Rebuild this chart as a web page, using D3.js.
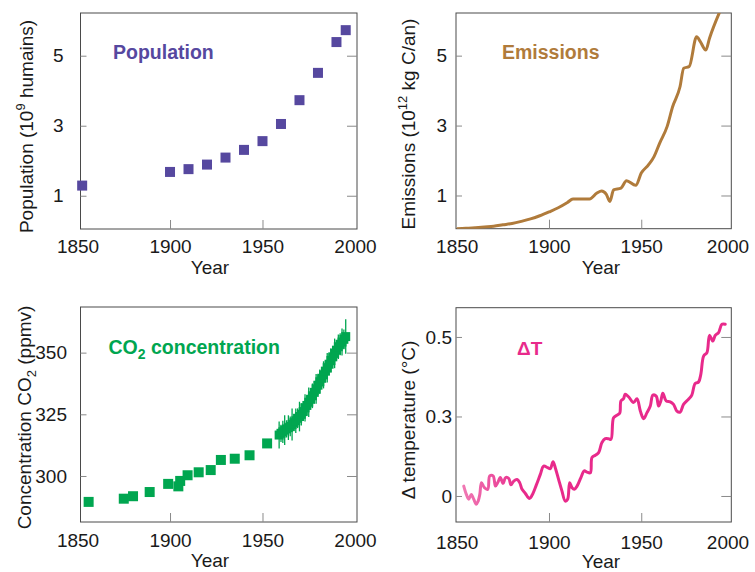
<!DOCTYPE html>
<html>
<head>
<meta charset="utf-8">
<script src="https://cdn.jsdelivr.net/npm/d3@7"></script>
<style>
  body { margin: 0; background: #fff; }
  svg { display: block; }
  text { font-family: "Liberation Sans", Arial, Helvetica, sans-serif; }
</style>
</head>
<body>
<svg id="chart" width="755" height="572"></svg>
<script>
// ---- data ----
const xTickYears = [1850, 1900, 1950, 2000];

// World population (10^9 people)
const popYears  = [1852.5, 1900, 1910, 1920, 1930, 1940, 1950, 1960, 1970, 1980, 1990, 1995];
const popValues = [1.29, 1.68, 1.76, 1.89, 2.09, 2.31, 2.56, 3.05, 3.73, 4.51, 5.39, 5.73];
const popTicks  = [1, 3, 5];

// Fossil carbon emissions (10^12 kg C per year)
const emYears  = [1850, 1855, 1860, 1865, 1870, 1875, 1880, 1885, 1890, 1895, 1900, 1905, 1910, 1913,
                  1922, 1926, 1928.5, 1931, 1933, 1935, 1939, 1942, 1947, 1950, 1954, 1957, 1960,
                  1964, 1967, 1971, 1973, 1976, 1980, 1982, 1985, 1987, 1992.5];
const emValues = [0.05, 0.06, 0.08, 0.10, 0.12, 0.16, 0.20, 0.26, 0.33, 0.42, 0.53, 0.65, 0.80, 0.90,
                  0.90, 1.07, 1.13, 1.04, 0.83, 1.16, 1.21, 1.42, 1.29, 1.64, 1.88, 2.12, 2.50,
                  2.97, 3.54, 4.11, 4.64, 4.69, 5.54, 5.40, 5.16, 5.50, 6.25];
const emTicks  = [1, 3, 5];

// Atmospheric CO2 (ppmv): ice-core samples, then direct annual measurements with seasonal range
const co2CoreYears  = [1856, 1875, 1880, 1889, 1899, 1904.5, 1905.5, 1909.5, 1915.5, 1922, 1927.5, 1935, 1943, 1952.5];
const co2CoreValues = [289.5, 290.8, 291.8, 293.5, 296.8, 295.8, 298.0, 300.3, 301.5, 302.4, 306.5, 307.0, 308.4, 313.2];
const co2AirYears   = d3.range(1959, 1996);
const co2AirValues  = [316.6, 317.3, 317.9, 318.6, 319.1, 319.6, 320.1, 320.9, 321.6, 322.4, 323.4, 324.1,
                       325.0, 326.1, 327.6, 328.6, 329.9, 331.1, 332.5, 333.9, 335.3, 336.8, 338.2, 339.6,
                       341.0, 342.5, 343.9, 345.3, 346.8, 348.3, 349.7, 351.0, 352.4, 353.4, 354.3, 355.4, 356.5];
const co2AirRange   = [5.5, 3.5, 4.5, 6.0, 3.5, 5.0, 4.0, 6.5, 3.5, 5.0, 4.0, 6.0, 4.5, 3.5, 5.5, 4.0,
                       6.0, 3.5, 5.0, 4.5, 6.0, 4.0, 5.0, 3.5, 5.5, 4.0, 6.0, 4.5, 5.0, 3.5, 6.0, 4.0,
                       5.0, 4.5, 5.5, 4.0, 7.0];
const co2Ticks = [300, 325, 350];

// Global temperature change (°C)
const tYears  = [1853.8, 1855.2, 1856.5, 1857.9, 1859.2, 1860.6, 1861.6, 1862.5, 1863.4, 1865, 1866.8, 1867.9,
                 1869.7, 1871, 1872.2, 1873.6, 1875.1, 1876.5, 1878.2, 1879.4, 1880.9, 1882.7, 1884.1, 1885.4,
                 1887.2, 1889.4, 1890.8, 1893.1, 1895.3, 1897.1, 1899.3, 1900.7, 1902.2, 1903.4, 1905.2, 1907,
                 1908.8, 1910.1, 1911.2, 1912.5, 1913.7, 1915.2, 1917.3, 1919.1, 1920.6, 1922.4, 1923.3, 1925.1,
                 1926.9, 1928.7, 1930.5, 1932.3, 1933.6, 1935, 1936.8, 1938.3, 1939, 1940.4, 1941.3, 1943.1,
                 1945.8, 1947.7, 1949.5, 1951.3, 1953.1, 1954.9, 1956.3, 1958.1, 1959.4, 1960.6, 1961.7, 1963.5,
                 1965.7, 1967.5, 1969.3, 1971.1, 1972.9, 1975.6, 1977.4, 1979.2, 1981, 1982.3, 1983.8, 1985.6,
                 1987, 1988.8, 1990.1, 1991.9, 1993.7, 1995.5];
const tValues = [0.031, 0.005, -0.010, 0.005, -0.010, -0.026, -0.016, 0.005, 0.042, 0.026, 0.021, 0.063,
                 0.063, 0.031, 0.042, 0.058, 0.040, 0.058, 0.055, 0.035, 0.047, 0.052, 0.042, 0.021,
                 0.008, -0.008, 0.002, 0.034, 0.068, 0.094, 0.089, 0.086, 0.108, 0.089, 0.052, 0.016,
                 -0.016, -0.010, 0.042, 0.026, 0.021, 0.031, 0.058, 0.079, 0.075, 0.073, 0.121, 0.128,
                 0.136, 0.168, 0.180, 0.180, 0.178, 0.246, 0.254, 0.260, 0.299, 0.306, 0.320, 0.312,
                 0.294, 0.306, 0.267, 0.243, 0.262, 0.283, 0.317, 0.314, 0.283, 0.299, 0.323, 0.299,
                 0.296, 0.288, 0.267, 0.264, 0.288, 0.304, 0.317, 0.354, 0.358, 0.383, 0.440, 0.451,
                 0.505, 0.487, 0.505, 0.514, 0.540, 0.540];
const tTickValues = [0, 0.25, 0.5];
const tTickLabels = ["0", "0.3", "0.5"];

// ---- drawing ----
const svg = d3.select("#chart");
const FONT = 19;
const ink = "#1a1a1a";

function panel(opt) {
  const g = svg.append("g");
  const x = d3.scaleLinear().domain(opt.xDomain).range([opt.x0, opt.x1]);
  const y = d3.scaleLinear().domain(opt.yDomain).range([opt.y1, opt.y0]);

  // frame
  g.append("rect")
    .attr("x", opt.x0).attr("y", opt.y0)
    .attr("width", opt.x1 - opt.x0).attr("height", opt.y1 - opt.y0)
    .attr("fill", "none").attr("stroke", "#4a4a4a").attr("stroke-width", 1);

  // left axis: labels outside, short ticks inside
  const left = d3.axisLeft(y).tickValues(opt.yTicks)
    .tickSizeInner(-6).tickSizeOuter(0).tickPadding(opt.yPad)
    .tickFormat((d, i) => opt.yLabels ? opt.yLabels[i] : d3.format("d")(d));
  const gl = g.append("g").attr("transform", `translate(${opt.x0},0)`).call(left);
  gl.select(".domain").remove();
  gl.selectAll(".tick line").attr("stroke", "#8a8a8a");
  gl.selectAll(".tick text").attr("font-size", FONT).attr("fill", ink);

  // right axis: ticks only
  const right = d3.axisLeft(y).tickValues(opt.yTicks).tickSize(10).tickFormat("");
  const gr = g.append("g").attr("transform", `translate(${opt.x1},0)`).call(right);
  gr.select(".domain").remove();
  gr.selectAll(".tick line").attr("stroke", "#8a8a8a");

  // bottom axis
  const bottom = d3.axisBottom(x).tickValues(xTickYears)
    .tickSizeInner(-9).tickSizeOuter(0).tickPadding(opt.xPad).tickFormat(d3.format("d"));
  const gb = g.append("g").attr("transform", `translate(0,${opt.y1})`).call(bottom);
  gb.select(".domain").remove();
  gb.selectAll(".tick line").attr("stroke", "#8a8a8a")
    .attr("opacity", d => (d > opt.xDomain[0] + 2 && d < opt.xDomain[1] - 2) ? 1 : 0);
  gb.selectAll(".tick text").attr("font-size", FONT).attr("fill", ink)
    .attr("dx", d => d === 2000 ? opt.lastDx : 0);

  // axis titles
  g.append("text").attr("x", opt.xTitleX).attr("y", opt.xTitleY)
    .attr("text-anchor", "middle").attr("font-size", FONT).attr("fill", ink).text("Year");

  const yt = g.append("text")
    .attr("transform", `translate(${opt.yTitleX},${opt.yTitleY}) rotate(-90)`)
    .attr("text-anchor", "middle").attr("font-size", FONT).attr("fill", ink);
  opt.yTitle(yt);

  return { g, x, y };
}

// Population
{
  const p = panel({
    x0: 80.5, x1: 357, y0: 13, y1: 229,
    xDomain: [1851.6, 2001.1], yDomain: [0.05, 6.22],
    yTicks: popTicks, yPad: 17, xPad: 11, lastDx: 0,
    xTitleX: 210, xTitleY: 273.5, yTitleX: 33, yTitleY: 126.5,
    yTitle: t => {
      t.append("tspan").text("Population (10");
      t.append("tspan").attr("font-size", 13).attr("dy", -8).text("9");
      t.append("tspan").attr("dy", 8).text(" humains)");
    }
  });
  const s = 10;
  p.g.selectAll("rect.pt").data(popYears).join("rect").attr("class", "pt")
    .attr("x", (d) => p.x(d) - s / 2)
    .attr("y", (d, i) => p.y(popValues[i]) - s / 2)
    .attr("width", s).attr("height", s).attr("fill", "#56489f");
  p.g.append("text").attr("x", 113).attr("y", 59).attr("font-size", 19.5)
    .attr("font-weight", "bold").attr("fill", "#56489f").text("Population");
}

// Emissions
{
  const p = panel({
    x0: 456, x1: 731.3, y0: 13, y1: 228.7,
    xDomain: [1849.6, 1998.8], yDomain: [0.05, 6.22],
    yTicks: emTicks, yPad: 9, xPad: 11, lastDx: -6,
    xTitleX: 601, xTitleY: 273.5, yTitleX: 414.5, yTitleY: 124,
    yTitle: t => {
      t.append("tspan").text("Emissions (10");
      t.append("tspan").attr("font-size", 13).attr("dy", -8).text("12");
      t.append("tspan").attr("dy", 8).text(" kg C/an)");
    }
  });
  svg.append("clipPath").attr("id", "clipEm").append("rect")
    .attr("x", 456).attr("y", 13).attr("width", 731.3 - 456).attr("height", 228.7 - 13);
  const line = d3.line().x((d, i) => p.x(emYears[i])).y(d => p.y(d)).curve(d3.curveMonotoneX);
  p.g.append("path").datum(emValues).attr("d", line)
    .attr("clip-path", "url(#clipEm)")
    .attr("fill", "none").attr("stroke", "#b07b3b").attr("stroke-width", 3)
    .attr("stroke-linejoin", "round");
  p.g.append("text").attr("x", 502).attr("y", 58.5).attr("font-size", 19.5)
    .attr("font-weight", "bold").attr("fill", "#b07b3b").text("Emissions");
}

// CO2 concentration
{
  const green = "#00a650";
  const p = panel({
    x0: 80.5, x1: 357, y0: 307, y1: 522,
    xDomain: [1851.6, 2001.1], yDomain: [281.35, 368.5],
    yTicks: co2Ticks, yPad: 13.5, xPad: 12, lastDx: 0,
    xTitleX: 210, xTitleY: 567, yTitleX: 31, yTitleY: 417.5,
    yTitle: t => {
      t.append("tspan").text("Concentration CO");
      t.append("tspan").attr("font-size", 13).attr("dy", 5).text("2");
      t.append("tspan").attr("dy", -5).text(" (ppmv)");
    }
  });
  const s = 10;
  p.g.selectAll("rect.core").data(co2CoreYears).join("rect").attr("class", "core")
    .attr("x", d => p.x(d) - s / 2)
    .attr("y", (d, i) => p.y(co2CoreValues[i]) - s / 2)
    .attr("width", s).attr("height", s).attr("fill", green);
  p.g.selectAll("line.rng").data(co2AirYears).join("line").attr("class", "rng")
    .attr("x1", d => p.x(d)).attr("x2", d => p.x(d))
    .attr("y1", (d, i) => p.y(co2AirValues[i] - co2AirRange[i]))
    .attr("y2", (d, i) => p.y(co2AirValues[i] + co2AirRange[i]))
    .attr("stroke", green).attr("stroke-width", 1.3);
  const s2 = 9;
  p.g.selectAll("rect.air").data(co2AirYears).join("rect").attr("class", "air")
    .attr("x", d => p.x(d) - s2 / 2)
    .attr("y", (d, i) => p.y(co2AirValues[i]) - s2 / 2)
    .attr("width", s2).attr("height", s2).attr("fill", green);
  const lbl = p.g.append("text").attr("x", 108.5).attr("y", 354).attr("font-size", 19.5)
    .attr("font-weight", "bold").attr("fill", green);
  lbl.append("tspan").text("CO");
  lbl.append("tspan").attr("font-size", 14).attr("dy", 5).text("2");
  lbl.append("tspan").attr("dy", -5).text(" concentration");
}

// Temperature change
{
  const p = panel({
    x0: 456, x1: 731.3, y0: 307.7, y1: 522,
    xDomain: [1849.6, 1998.8], yDomain: [-0.0818, 0.592],
    yTicks: tTickValues, yLabels: tTickLabels, yPad: 4, xPad: 13.5, lastDx: -6,
    xTitleX: 601, xTitleY: 567.5, yTitleX: 414.5, yTitleY: 420,
    yTitle: t => { t.text("\u0394 temperature (\u00B0C)"); }
  });
  const grad = svg.append("defs").append("linearGradient").attr("id", "tGrad")
    .attr("gradientUnits", "userSpaceOnUse")
    .attr("x1", p.x(1853)).attr("x2", p.x(1885)).attr("y1", 0).attr("y2", 0);
  grad.append("stop").attr("offset", 0).attr("stop-color", "#f07ab4");
  grad.append("stop").attr("offset", 1).attr("stop-color", "#e82a8b");
  const line = d3.line().x((d, i) => p.x(tYears[i])).y(d => p.y(d)).curve(d3.curveCatmullRom.alpha(0.5));
  p.g.append("path").datum(tValues).attr("d", line)
    .attr("fill", "none").attr("stroke", "url(#tGrad)").attr("stroke-width", 3)
    .attr("stroke-linejoin", "round").attr("stroke-linecap", "round");
  p.g.append("text").attr("x", 517).attr("y", 354.5).attr("font-size", 19)
    .attr("font-weight", "bold").attr("fill", "#e82a8b").text("\u0394T");
}
</script>
</body>
</html>
